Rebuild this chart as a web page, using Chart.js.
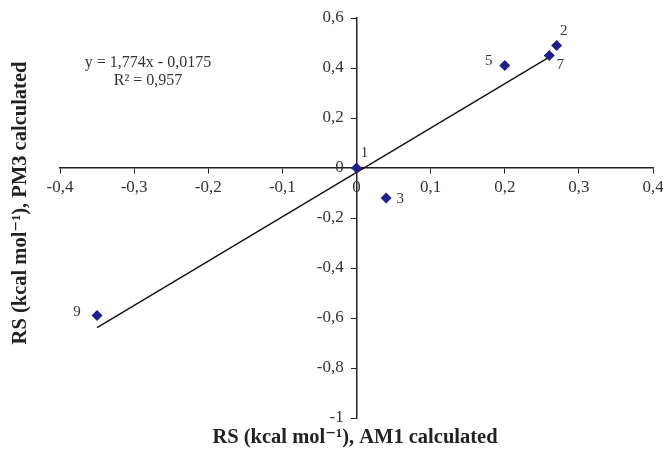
<!DOCTYPE html>
<html>
<head>
<meta charset="utf-8">
<script src="https://cdn.jsdelivr.net/npm/chart.js@4/dist/chart.umd.min.js"></script>
<style>
  html, body { margin: 0; padding: 0; background: #fff; }
  #wrap { width: 663px; height: 458px; }
</style>
</head>
<body>
<div id="wrap"><canvas id="chart" width="663" height="458"></canvas></div>
<script>
// ─── Data ─────────────────────────────────────────────────
const pointIds = ['1', '2', '3', '5', '7', '9'];
const am1Values = [0, 0.27, 0.04, 0.20, 0.26, -0.35];
const pm3Values = [0, 0.49, -0.12, 0.41, 0.45, -0.59];

// trend line from the printed equation y = 1,774x - 0,0175
const slope = 1.774;
const intercept = -0.0175;
const trendX = [-0.35, 0.26];

const xTicks = { min: -0.4, max: 0.4, step: 0.1 };
const yTicks = { min: -1, max: 0.6, step: 0.2 };

// label offsets next to each marker (styling only)
const labelOffset = {
  '1': [8, -15], '2': [7, -14], '3': [14, 1],
  '5': [-16, -4], '7': [11, 10], '9': [-20, -3]
};

const serif = '"Liberation Serif", "DejaVu Serif", serif';
const fmt = v => String(parseFloat(Number(v).toFixed(1))).replace('.', ',');

const points = am1Values.map((x, i) => ({ x, y: pm3Values[i] }));
const trend = trendX.map(x => ({ x, y: slope * x + intercept }));

// ─── Extra text: point ids, equation, axis titles ─────────
const textPlugin = {
  id: 'texts',
  afterDatasetsDraw(chart) {
    const { ctx, scales } = chart;
    ctx.save();
    ctx.fillStyle = '#333';
    ctx.font = `15px ${serif}`;
    ctx.textAlign = 'center';
    ctx.textBaseline = 'middle';
    pointIds.forEach((id, i) => {
      const px = scales.x.getPixelForValue(am1Values[i]);
      const py = scales.y.getPixelForValue(pm3Values[i]);
      const [dx, dy] = labelOffset[id];
      ctx.fillText(id, px + dx, py + dy);
    });

    ctx.font = `16px ${serif}`;
    ctx.fillText('y = 1,774x - 0,0175', 148, 63);
    ctx.fillText('R\u00B2 = 0,957', 148, 81);

    ctx.fillStyle = '#222';
    ctx.font = `bold 20.5px ${serif}`;
    ctx.fillText('RS (kcal mol\u207B\u00B9), AM1 calculated', 355, 438);
    ctx.translate(21, 203);
    ctx.rotate(-Math.PI / 2);
    ctx.fillText('RS (kcal mol\u207B\u00B9), PM3 calculated', 0, 0);
    ctx.restore();
  }
};

// ─── Chart ────────────────────────────────────────────────
new Chart(document.getElementById('chart'), {
  type: 'scatter',
  data: {
    datasets: [
      {
        label: 'RS',
        data: points,
        pointStyle: 'rectRot',
        pointRadius: 5.5,
        pointBackgroundColor: '#1f1f8a',
        pointBorderColor: '#1f1f8a',
        pointBorderWidth: 0
      },
      {
        type: 'line',
        label: 'trend',
        data: trend,
        borderColor: '#111',
        borderWidth: 1.4,
        pointRadius: 0,
        fill: false
      }
    ]
  },
  options: {
    responsive: false,
    animation: false,
    layout: { padding: { left: 60, right: 10, top: 18, bottom: 40 } },
    plugins: { legend: { display: false }, tooltip: { enabled: false } },
    scales: {
      x: {
        type: 'linear',
        position: { y: 0 },
        min: xTicks.min,
        max: xTicks.max,
        // let the end labels hang into the padding
        afterFit(scale) { scale.paddingLeft = 0; scale.paddingRight = 0; },
        grid: { display: true, drawOnChartArea: false, drawTicks: true, tickLength: 5, color: '#222' },
        border: { display: true, color: '#222', width: 1.5 },
        ticks: {
          stepSize: xTicks.step,
          color: '#333',
          padding: 4,
          font: { family: serif, size: 17 },
          callback: fmt
        }
      },
      y: {
        type: 'linear',
        position: { x: 0 },
        min: yTicks.min,
        max: yTicks.max,
        afterFit(scale) { scale.paddingTop = 0; scale.paddingBottom = 0; },
        grid: { display: true, drawOnChartArea: false, drawTicks: true, tickLength: 5, color: '#222' },
        border: { display: true, color: '#222', width: 1.5 },
        ticks: {
          stepSize: yTicks.step,
          color: '#333',
          font: { family: serif, size: 17 },
          // centred axes get no label padding, so pad with a space
          callback: v => fmt(v) + '\u2002\u2005'
        }
      }
    }
  },
  plugins: [textPlugin]
});
</script>
</body>
</html>
